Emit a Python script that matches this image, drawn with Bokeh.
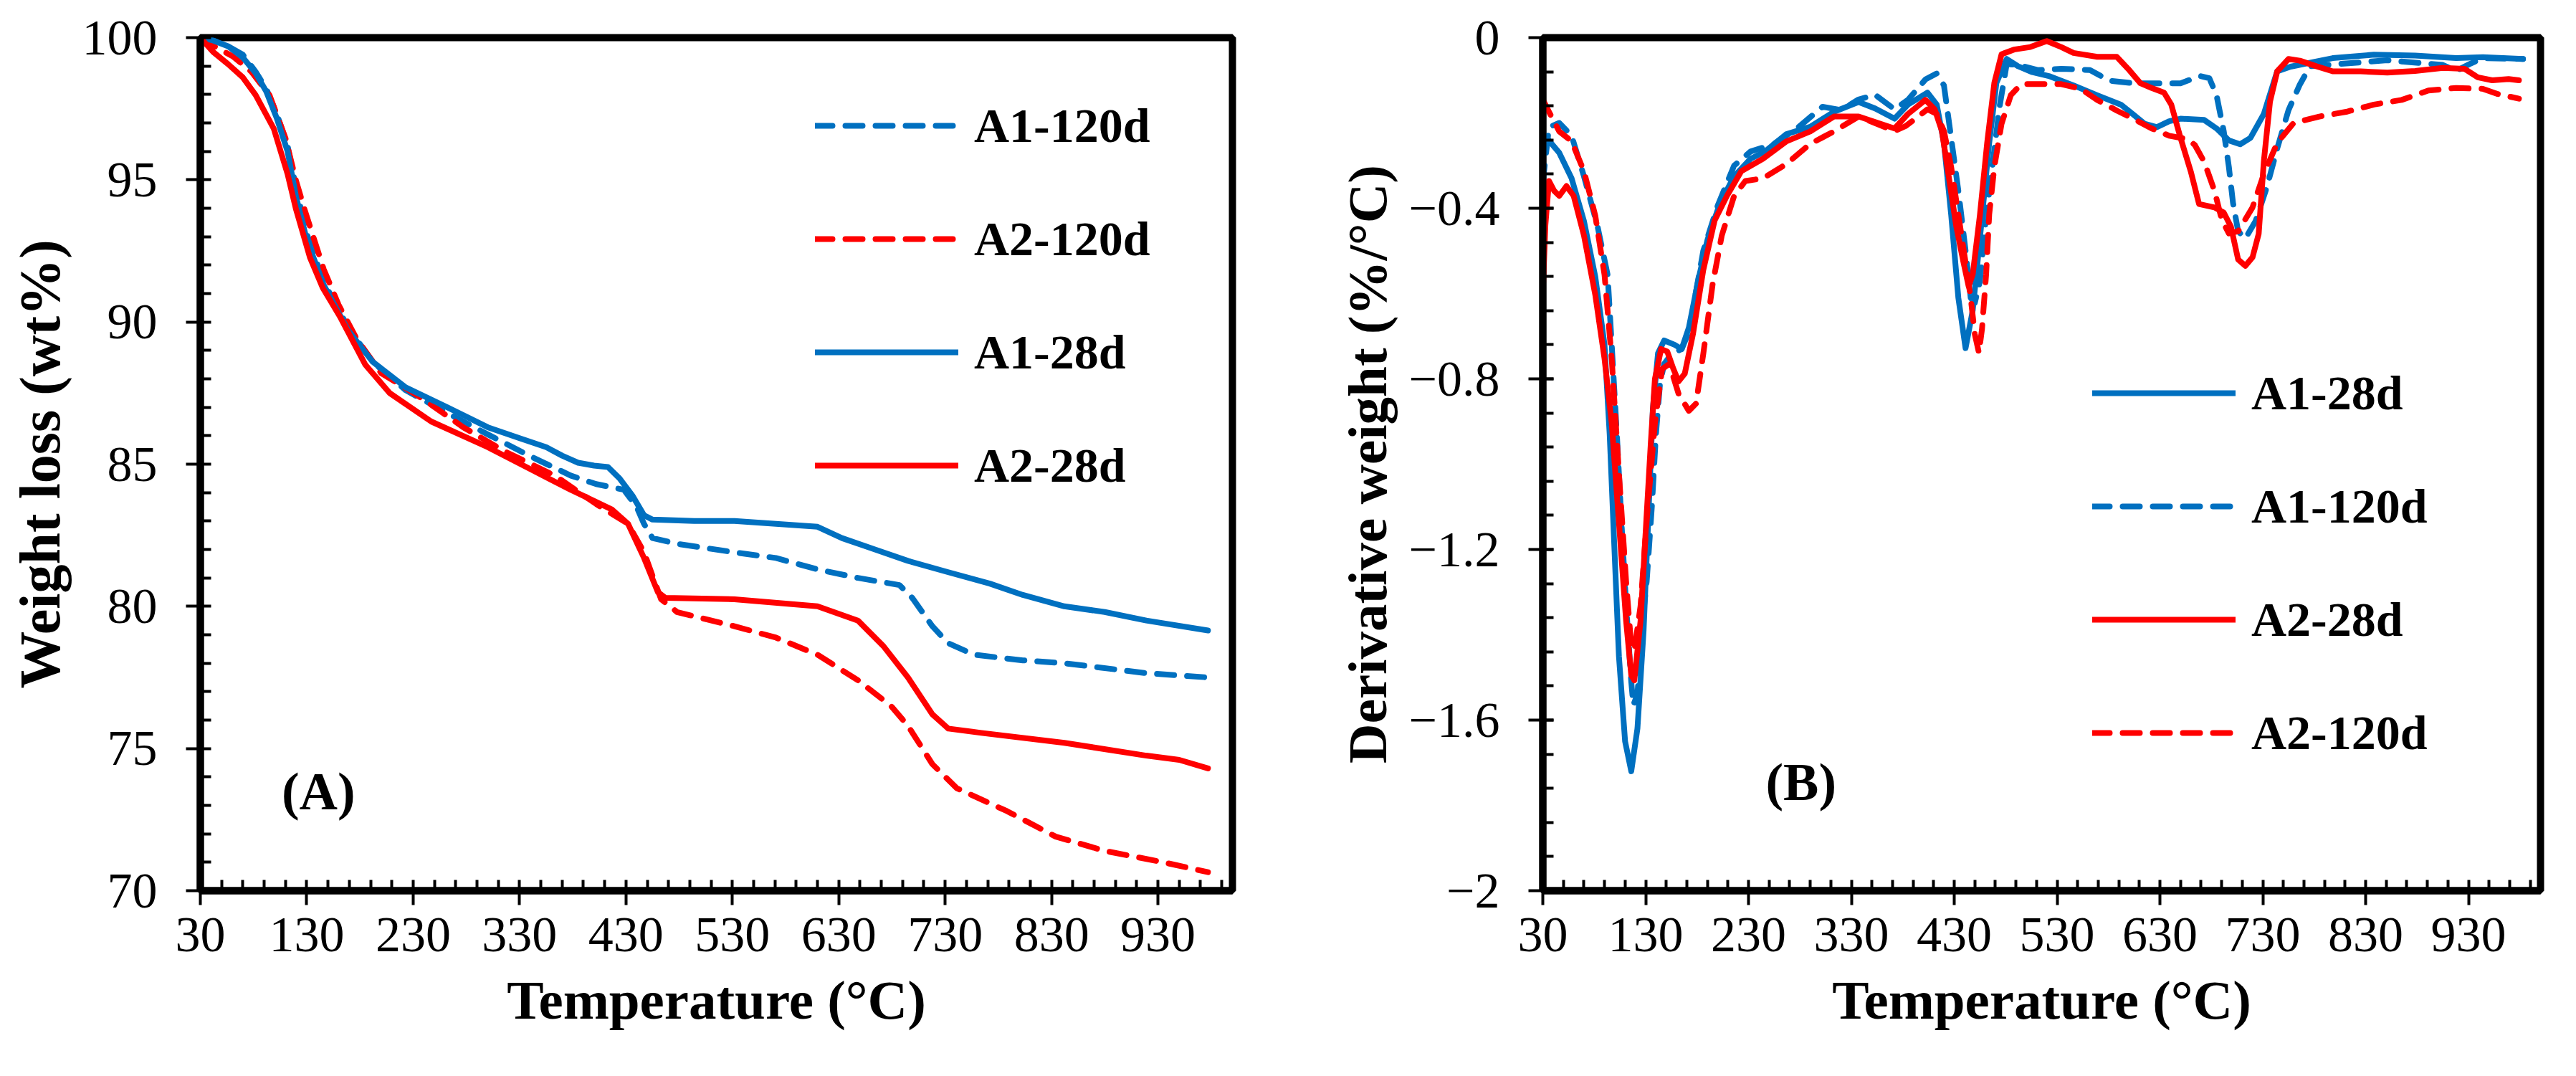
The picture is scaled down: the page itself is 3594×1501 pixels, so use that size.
from bokeh.plotting import figure
from bokeh.layouts import row
from bokeh.models import (FixedTicker, Legend, LegendItem, Label,
                          CustomJSTickFormatter, Range1d)
from bokeh.embed import file_html
from bokeh.resources import INLINE

BLUE = "#0070C0"
RED = "#FF0000"
FONT = "Liberation Serif"
DASH = "24 18"

# ---- (A) TGA: weight loss (wt%) vs temperature (°C)
tga_t_a1_28 = [30, 42, 56, 70, 82, 92, 102, 112, 120, 130, 146, 169, 192, 223, 262, 300, 331, 355, 370, 385,
               400, 413, 424, 436, 447, 455, 494, 532, 571, 610, 633, 664, 695, 733, 772, 803, 842, 880, 919, 977]
tga_w_a1_28 = [100, 99.9, 99.7, 99.3, 98.75, 98.1, 97.15, 96.0, 94.4, 92.9, 91.3, 89.7, 88.6, 87.7, 87.0, 86.3,
               85.9, 85.6, 85.3, 85.05, 84.95, 84.9, 84.5, 83.9, 83.2, 83.05, 83.0, 83.0, 82.9, 82.8, 82.4, 82.0,
               81.6, 81.2, 80.8, 80.4, 80.0, 79.8, 79.5, 79.15]

tga_t_a1_120 = [30, 42, 56, 70, 82, 92, 102, 112, 120, 130, 146, 169, 192, 223, 262, 300, 339, 378, 402, 428,
                440, 447, 455, 478, 532, 571, 610, 648, 687, 699, 718, 733, 757, 803, 842, 919, 977]
tga_w_a1_120 = [100, 99.9, 99.7, 99.4, 98.8, 98.2, 97.3, 96.2, 94.7, 93.1, 91.4, 89.8, 88.6, 87.6, 86.8, 86.05,
                85.3, 84.6, 84.3, 84.1, 83.5, 82.9, 82.4, 82.2, 81.9, 81.7, 81.3, 81.0, 80.75, 80.3, 79.3, 78.7,
                78.3, 78.1, 78.0, 77.65, 77.5]

tga_t_a2_28 = [30, 42, 56, 70, 82, 99, 112, 120, 133, 145, 161, 185, 208, 247, 300, 339, 378, 417, 432, 447,
               460, 467, 532, 610, 648, 672, 695, 718, 733, 764, 842, 919, 950, 977]
tga_w_a2_28 = [100, 99.5, 99.07, 98.6, 97.98, 96.8, 95.2, 93.95, 92.27, 91.2, 90.2, 88.5, 87.5, 86.5, 85.6,
               84.85, 84.1, 83.4, 82.9, 81.7, 80.5, 80.3, 80.25, 80.0, 79.5, 78.6, 77.5, 76.2, 75.7, 75.55, 75.2,
               74.75, 74.6, 74.3]

tga_t_a2_120 = [30, 38, 61, 78, 95, 110, 120, 128, 146, 160, 177, 200, 239, 277, 316, 363, 402, 432, 447, 463,
                478, 532, 571, 610, 648, 679, 695, 718, 741, 788, 834, 880, 935, 977]
tga_w_a2_120 = [100, 99.8, 99.33, 98.8, 97.98, 96.47, 94.96, 93.95, 91.85, 90.6, 89.4, 88.2, 87.3, 86.3, 85.45,
                84.6, 83.6, 82.9, 81.9, 80.25, 79.8, 79.3, 78.9, 78.3, 77.4, 76.5, 75.8, 74.45, 73.6, 72.8, 71.9,
                71.4, 71.0, 70.65]

# ---- (B) DTG: derivative weight (%/°C) vs temperature (°C)
dtg_t_a1_28 = [32, 46, 58, 70, 81, 90, 95, 100, 104, 110, 116, 122, 128, 132, 137, 142, 148, 158, 165, 172, 181,
               190, 202, 216, 232, 246, 267, 290, 313, 337, 353, 372, 385, 404, 413, 420, 427, 434, 441, 448, 455,
               464, 471, 481, 492, 506, 522, 546, 569, 592, 604, 615, 627, 639, 650, 673, 685, 697, 708, 718, 731,
               744, 757, 798, 838, 878, 918, 944, 983]
dtg_v_a1_28 = [-0.23, -0.27, -0.33, -0.43, -0.56, -0.72, -0.93, -1.22, -1.45, -1.65, -1.72, -1.62, -1.39, -1.16,
               -0.87, -0.74, -0.71, -0.72, -0.73, -0.68, -0.57, -0.475, -0.39, -0.325, -0.284, -0.267, -0.226,
               -0.209, -0.174, -0.151, -0.166, -0.19, -0.157, -0.129, -0.157, -0.247, -0.415, -0.61, -0.728,
               -0.639, -0.47, -0.247, -0.106, -0.05, -0.067, -0.081, -0.09, -0.112, -0.135, -0.157, -0.18, -0.202,
               -0.21, -0.196, -0.19, -0.193, -0.213, -0.241, -0.25, -0.235, -0.179, -0.079, -0.068, -0.048, -0.04,
               -0.042, -0.048, -0.046, -0.05]

dtg_t_a1_120 = [30, 36, 46, 58, 70, 83, 93, 97, 102, 107, 111, 116, 118, 122, 126, 131, 136, 140, 144, 148, 155,
                165, 172, 186, 200, 216, 232, 255, 279, 302, 320, 337, 353, 372, 385, 402, 413, 420, 427, 434, 441,
                446, 450, 455, 460, 467, 474, 481, 492, 511, 534, 562, 581, 604, 627, 650, 669, 678, 685, 692, 697,
                701, 706, 713, 723, 734, 744, 755, 766, 776, 803, 851, 905, 918, 931, 944, 983]
dtg_v_a1_120 = [-0.34, -0.21, -0.2, -0.23, -0.325, -0.44, -0.556, -0.72, -0.93, -1.16, -1.33, -1.51, -1.565, -1.54,
                -1.39, -1.275, -1.1, -0.93, -0.81, -0.765, -0.742, -0.73, -0.69, -0.5, -0.394, -0.3, -0.267, -0.249,
                -0.209, -0.162, -0.17, -0.145, -0.134, -0.168, -0.146, -0.098, -0.084, -0.112, -0.235, -0.359,
                -0.499, -0.61, -0.622, -0.571, -0.443, -0.303, -0.163, -0.062, -0.064, -0.076, -0.073, -0.076,
                -0.101, -0.107, -0.107, -0.107, -0.09, -0.095, -0.135, -0.219, -0.303, -0.387, -0.454, -0.471,
                -0.43, -0.35, -0.26, -0.17, -0.11, -0.067, -0.062, -0.053, -0.064, -0.078, -0.062, -0.048, -0.05]

dtg_t_a2_28 = [30, 32.5, 36, 41, 46, 53, 60, 70, 81, 90, 97, 104, 111, 116, 119, 125, 130, 135, 139, 145, 151,
               157, 162, 168, 176, 186, 197, 209, 223, 244, 267, 290, 313, 337, 372, 385, 402, 411, 418, 425, 432,
               439, 444, 448, 455, 462, 469, 476, 488, 504, 520, 534, 546, 569, 588, 599, 611, 622, 634, 641, 650,
               660, 668, 683, 692, 699, 706, 713, 720, 726, 731, 737, 744, 755, 766, 782, 798, 825, 851, 878, 905,
               926, 939, 953, 969, 979]
dtg_v_a2_28 = [-0.6, -0.44, -0.336, -0.359, -0.371, -0.348, -0.371, -0.464, -0.603, -0.753, -0.904, -1.136,
               -1.368, -1.495, -1.507, -1.368, -1.159, -0.95, -0.8, -0.73, -0.736, -0.777, -0.806, -0.788, -0.695,
               -0.545, -0.429, -0.371, -0.313, -0.284, -0.243, -0.22, -0.185, -0.185, -0.213, -0.179, -0.146,
               -0.168, -0.219, -0.331, -0.443, -0.527, -0.583, -0.555, -0.415, -0.247, -0.106, -0.039, -0.028,
               -0.022, -0.008, -0.022, -0.036, -0.045, -0.045, -0.073, -0.107, -0.118, -0.129, -0.157, -0.235,
               -0.314, -0.39, -0.398, -0.41, -0.443, -0.52, -0.535, -0.515, -0.46, -0.29, -0.15, -0.079, -0.05,
               -0.054, -0.067, -0.079, -0.079, -0.082, -0.078, -0.071, -0.073, -0.093, -0.1, -0.097, -0.1]

dtg_t_a2_120 = [30, 36, 46, 58, 70, 81, 90, 97, 104, 111, 116, 119, 125, 132, 139, 146, 153, 162, 172, 179, 186,
                195, 204, 216, 227, 244, 267, 290, 313, 337, 372, 383, 395, 404, 413, 420, 427, 434, 441, 446, 450,
                454, 457, 461, 464, 469, 476, 485, 495, 511, 534, 553, 569, 588, 604, 622, 639, 657, 664, 673, 683,
                690, 697, 706, 713, 720, 731, 744, 760, 785, 811, 838, 865, 891, 918, 944, 958, 979]
dtg_v_a2_120 = [-0.145, -0.174, -0.22, -0.243, -0.313, -0.417, -0.556, -0.753, -1.02, -1.275, -1.426, -1.437,
                -1.333, -1.101, -0.904, -0.777, -0.765, -0.835, -0.875, -0.858, -0.742, -0.58, -0.464, -0.371,
                -0.336, -0.33, -0.296, -0.249, -0.22, -0.185, -0.219, -0.207, -0.185, -0.168, -0.179, -0.219,
                -0.303, -0.415, -0.527, -0.61, -0.695, -0.739, -0.683, -0.555, -0.415, -0.303, -0.202, -0.135,
                -0.109, -0.109, -0.109, -0.12, -0.146, -0.171, -0.19, -0.213, -0.23, -0.238, -0.252, -0.291, -0.359,
                -0.426, -0.459, -0.454, -0.426, -0.398, -0.32, -0.247, -0.2, -0.185, -0.174, -0.157, -0.146, -0.124,
                -0.118, -0.12, -0.132, -0.143]

x_major = [30, 130, 230, 330, 430, 530, 630, 730, 830, 930]
x_minor = [t for t in range(50, 1000, 20) if t not in x_major]
tga_major = [70, 75, 80, 85, 90, 95, 100]
tga_minor = [v for v in range(70, 101) if v % 5]
dtg_major = [-2, -1.6, -1.2, -0.8, -0.4, 0]
dtg_minor = [round(-2 + 0.08 * i, 2) for i in range(26)]


def style(p, yticks, yminor, xlabel, ylabel, ysize):
    p.outline_line_color = "black"
    p.outline_line_width = 10
    p.xgrid.visible = False
    p.ygrid.visible = False
    p.xaxis.ticker = FixedTicker(ticks=x_major, minor_ticks=x_minor)
    p.yaxis.ticker = FixedTicker(ticks=yticks, minor_ticks=yminor)
    p.xaxis.axis_label = xlabel
    p.yaxis.axis_label = ylabel
    for ax in (p.xaxis[0], p.yaxis[0]):
        ax.axis_line_width = 10
        ax.major_tick_line_width = 4
        ax.minor_tick_line_width = 4
        ax.major_tick_in = 15
        ax.major_tick_out = 20
        ax.minor_tick_in = 15
        ax.minor_tick_out = 0
        ax.major_label_text_font = FONT
        ax.major_label_text_font_size = "70px"
        ax.major_label_text_color = "black"
        ax.axis_label_text_font = FONT
        ax.axis_label_text_font_style = "bold"
        ax.axis_label_text_color = "black"
    p.xaxis.axis_label_text_font_size = "77px"
    p.yaxis.axis_label_text_font_size = ysize
    p.xaxis.major_label_standoff = 18
    p.yaxis.major_label_standoff = 40
    p.xaxis.axis_label_standoff = 22
    p.yaxis.axis_label_standoff = 12


def add_legend(p, items, loc):
    leg = Legend(items=items, location=loc, orientation="vertical")
    leg.label_text_font = FONT
    leg.label_text_font_style = "bold"
    leg.label_text_font_size = "68px"
    leg.label_text_color = "black"
    leg.glyph_width = 200
    leg.glyph_height = 120
    leg.label_height = 120
    leg.label_standoff = 22
    leg.spacing = 38
    leg.padding = 0
    leg.margin = 0
    leg.border_line_alpha = 0
    leg.background_fill_alpha = 0
    p.add_layout(leg)


p1 = figure(frame_width=1440, frame_height=1190, min_border_left=279, min_border_right=81,
            min_border_top=52, min_border_bottom=230, x_range=Range1d(30, 1000), y_range=Range1d(70, 100),
            output_backend="svg", toolbar_location=None)
style(p1, tga_major, tga_minor, "Temperature (°C)", "Weight loss (wt%)", "80px")

kw = dict(line_width=8, line_cap="round", line_join="round")
a1_120 = p1.line(tga_t_a1_120, tga_w_a1_120, color=BLUE, line_dash=DASH, **kw)
a2_120 = p1.line(tga_t_a2_120, tga_w_a2_120, color=RED, line_dash=DASH, **kw)
a1_28 = p1.line(tga_t_a1_28, tga_w_a1_28, color=BLUE, **kw)
a2_28 = p1.line(tga_t_a2_28, tga_w_a2_28, color=RED, **kw)
add_legend(p1, [LegendItem(label="A1-120d", renderers=[a1_120]),
                LegendItem(label="A2-120d", renderers=[a2_120]),
                LegendItem(label="A1-28d", renderers=[a1_28]),
                LegendItem(label="A2-28d", renderers=[a2_28])], (858, 533))
p1.add_layout(Label(x=141, y=73.5, text="(A)", text_font=FONT, text_font_style="bold", text_color="black",
                    text_font_size="74px", text_align="center", text_baseline="middle"))

p2 = figure(frame_width=1392, frame_height=1190, min_border_left=352, min_border_right=30,
            min_border_top=52, min_border_bottom=230, x_range=Range1d(30, 1000), y_range=Range1d(-2, 0),
            output_backend="svg", toolbar_location=None)
style(p2, dtg_major, dtg_minor, "Temperature (°C)", "Derivative weight (%/°C)", "77px")
p2.yaxis.formatter = CustomJSTickFormatter(
    code="return tick === 0 ? '0' : '\u2212' + String(+Math.abs(tick).toFixed(1));")

b1_28 = p2.line(dtg_t_a1_28, dtg_v_a1_28, color=BLUE, **kw)
b1_120 = p2.line(dtg_t_a1_120, dtg_v_a1_120, color=BLUE, line_dash=DASH, **kw)
b2_28 = p2.line(dtg_t_a2_28, dtg_v_a2_28, color=RED, **kw)
b2_120 = p2.line(dtg_t_a2_120, dtg_v_a2_120, color=RED, line_dash=DASH, **kw)
add_legend(p2, [LegendItem(label="A1-28d", renderers=[b1_28]),
                LegendItem(label="A1-120d", renderers=[b1_120]),
                LegendItem(label="A2-28d", renderers=[b2_28]),
                LegendItem(label="A2-120d", renderers=[b2_120])], (767, 160))
p2.add_layout(Label(x=281, y=-1.746, text="(B)", text_font=FONT, text_font_style="bold", text_color="black",
                    text_font_size="74px", text_align="center", text_baseline="middle"))

p = row(p1, p2)
open("out.html", "w").write(file_html(p, INLINE))
